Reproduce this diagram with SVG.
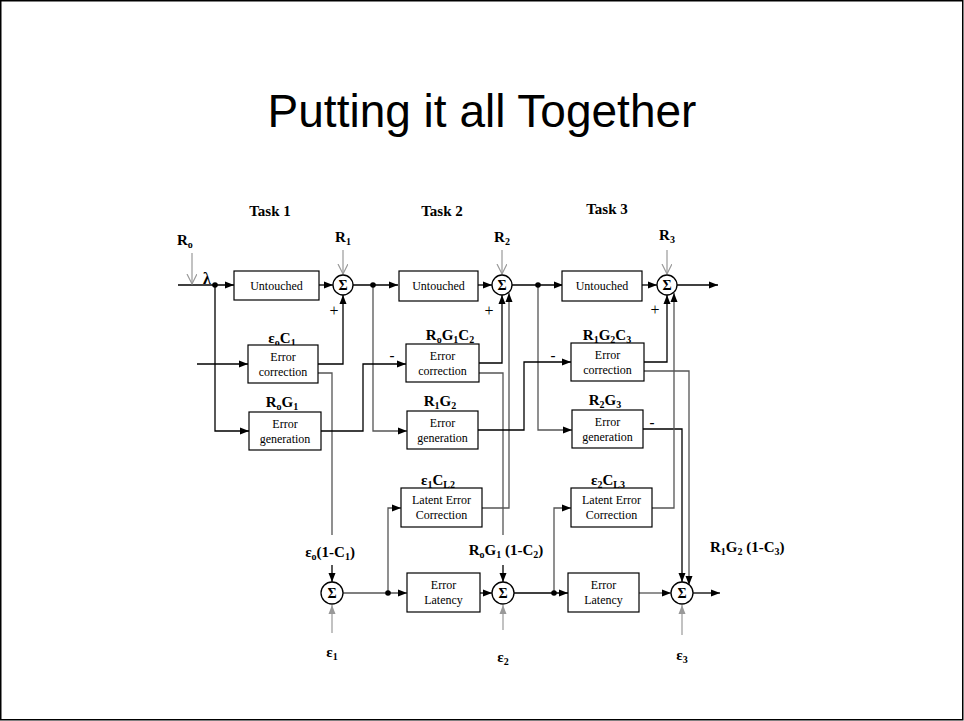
<svg xmlns="http://www.w3.org/2000/svg" width="964" height="721" viewBox="0 0 964 721">
<style>
.ln{fill:none;stroke:#000;stroke-width:1.3}
.gl{fill:none;stroke:#555;stroke-width:1.3}
.ra{fill:none;stroke:#999;stroke-width:1.2}
.box{fill:#fff;stroke:#000;stroke-width:1.2}
.sum{fill:#fff;stroke:#000;stroke-width:1.3}
.bt{font-family:"Liberation Serif","Times New Roman",serif;font-size:12px;text-anchor:middle;fill:#000}
.lb{font-family:"Liberation Serif","Times New Roman",serif;font-size:15px;font-weight:bold;fill:#000}
.pl{font-family:"Liberation Serif","Times New Roman",serif;font-size:16px;fill:#000;text-anchor:middle}
.sg{font-family:"Liberation Serif","Times New Roman",serif;font-size:14px;font-weight:bold;text-anchor:middle;fill:#000}
.c{text-anchor:middle}
.s{font-size:10px}
</style>
<defs>
<marker id="ah" markerUnits="userSpaceOnUse" markerWidth="10" markerHeight="8" refX="9" refY="4" orient="auto"><path d="M0,0.5 L9,4 L0,7.5 z" fill="#000"/></marker>
<marker id="ag" markerUnits="userSpaceOnUse" markerWidth="10" markerHeight="8" refX="9" refY="4" orient="auto"><path d="M0,0.5 L9,4 L0,7.5 z" fill="#999"/></marker>
<marker id="ao" markerUnits="userSpaceOnUse" markerWidth="12" markerHeight="12" refX="10" refY="5" orient="auto"><path d="M0,0 L10,5 L0,10" fill="none" stroke="#999" stroke-width="1.2"/></marker>
</defs>
<rect x="0.75" y="0.75" width="962" height="719" fill="#fff" stroke="#000" stroke-width="1.5"/>
<text x="482" y="127" font-family="'Liberation Sans',Arial,sans-serif" font-size="46" text-anchor="middle" fill="#000">Putting it all Together</text>

<g id="connectors">
<path class="ln" d="M178,285 H234" marker-end="url(#ah)"/>
<path class="ln" d="M215,285 V431 H249" marker-end="url(#ah)"/>
<path class="ln" d="M197,364 H248" marker-end="url(#ah)"/>
<path class="ln" d="M319,285 H333" marker-end="url(#ah)"/>
<path class="ln" d="M318,364 H343 V295" marker-end="url(#ah)"/>
<path class="gl" d="M318,373 H332 V535"/>
<path class="ln" d="M332,565 V582" marker-end="url(#ah)"/>
<path class="ln" d="M353,285 H398" marker-end="url(#ah)"/>
<path class="gl" d="M373,285 V431 H407" marker-end="url(#ah)"/>
<path class="ln" d="M321,431 H363 V364 H406" marker-end="url(#ah)"/>
<path class="ln" d="M478,285 H492" marker-end="url(#ah)"/>
<path class="ln" d="M479,363 H502 V295" marker-end="url(#ah)"/>
<path class="gl" d="M479,373 H503 V535"/>
<path class="ln" d="M503,565 V582" marker-end="url(#ah)"/>
<path class="gl" d="M482,508 H509 V293" marker-end="url(#ah)"/>
<path class="ln" d="M512,285 H563" marker-end="url(#ah)"/>
<path class="gl" d="M538,285 V430 H572" marker-end="url(#ah)"/>
<path class="ln" d="M478,430 H524 V362 H571" marker-end="url(#ah)"/>
<path class="ln" d="M642,285 H657" marker-end="url(#ah)"/>
<path class="ln" d="M644,362 H667 V295" marker-end="url(#ah)"/>
<path class="gl" d="M644,371 H689 V585" marker-end="url(#ah)"/>
<path class="ln" d="M643,429 H682 V582" marker-end="url(#ah)"/>
<path class="gl" d="M652,508 H674 V293" marker-end="url(#ah)"/>
<path class="ln" d="M677,285 H718" marker-end="url(#ah)"/>
<path class="gl" d="M343,593 H407" marker-end="url(#ah)"/>
<path class="gl" d="M388,593 V508 H401" marker-end="url(#ah)"/>
<path class="ln" d="M480,593 H492" marker-end="url(#ah)"/>
<path class="ln" d="M514,593 H568" marker-end="url(#ah)"/>
<path class="gl" d="M554,593 V508 H571" marker-end="url(#ah)"/>
<path class="gl" d="M639,593 H671" marker-end="url(#ah)"/>
<path class="ln" d="M693,593 H720" marker-end="url(#ah)"/>
<path class="ra" d="M192,253 V284" marker-end="url(#ao)"/>
<path class="ra" d="M343,250 V274" marker-end="url(#ao)"/>
<path class="ra" d="M502,250 V274" marker-end="url(#ao)"/>
<path class="ra" d="M667,250 V274" marker-end="url(#ao)"/>
<path class="ra" d="M332,633 V605" marker-end="url(#ag)"/>
<path class="ra" d="M503,630 V605" marker-end="url(#ag)"/>
<path class="ra" d="M682,635 V605" marker-end="url(#ag)"/>
<circle cx="215" cy="285" r="2.8" fill="#000"/>
<circle cx="373" cy="285" r="2.8" fill="#000"/>
<circle cx="538" cy="285" r="2.8" fill="#000"/>
<circle cx="388" cy="593" r="2.8" fill="#000"/>
<circle cx="554" cy="593" r="2.8" fill="#000"/>
</g>

<g id="labels">
<text class="lb c" x="270" y="216">Task 1</text>
<text class="lb c" x="442" y="216">Task 2</text>
<text class="lb c" x="607" y="214">Task 3</text>
<text class="lb" x="177" y="245">R<tspan class="s" dy="3">o</tspan></text>
<text class="lb c" x="343" y="242">R<tspan class="s" dy="3">1</tspan></text>
<text class="lb c" x="502" y="242">R<tspan class="s" dy="3">2</tspan></text>
<text class="lb c" x="667" y="240">R<tspan class="s" dy="3">3</tspan></text>
<text class="pl" x="207" y="284" font-weight="bold">λ</text>
<text class="pl" x="334" y="316">+</text>
<text class="pl" x="489" y="316">+</text>
<text class="pl" x="655" y="315">+</text>
<text class="lb c" x="392" y="360">-</text>
<text class="lb c" x="553" y="360">-</text>
<text class="lb c" x="652" y="427">-</text>
<text class="lb c" x="282" y="343">ε<tspan class="s" dy="3">o</tspan><tspan dy="-3">C</tspan><tspan class="s" dy="3">1</tspan></text>
<text class="lb c" x="282" y="407">R<tspan class="s" dy="3">o</tspan><tspan dy="-3">G</tspan><tspan class="s" dy="3">1</tspan></text>
<text class="lb c" x="450" y="340">R<tspan class="s" dy="3">o</tspan><tspan dy="-3">G</tspan><tspan class="s" dy="3">1</tspan><tspan dy="-3">C</tspan><tspan class="s" dy="3">2</tspan></text>
<text class="lb c" x="440" y="406">R<tspan class="s" dy="3">1</tspan><tspan dy="-3">G</tspan><tspan class="s" dy="3">2</tspan></text>
<text class="lb c" x="607" y="340">R<tspan class="s" dy="3">1</tspan><tspan dy="-3">G</tspan><tspan class="s" dy="3">2</tspan><tspan dy="-3">C</tspan><tspan class="s" dy="3">3</tspan></text>
<text class="lb c" x="605" y="405">R<tspan class="s" dy="3">2</tspan><tspan dy="-3">G</tspan><tspan class="s" dy="3">3</tspan></text>
<text class="lb c" x="438" y="485">ε<tspan class="s" dy="3">1</tspan><tspan dy="-3">C</tspan><tspan class="s" dy="3">L2</tspan></text>
<text class="lb c" x="608" y="485">ε<tspan class="s" dy="3">2</tspan><tspan dy="-3">C</tspan><tspan class="s" dy="3">L3</tspan></text>
<text class="lb c" x="330" y="557">ε<tspan class="s" dy="3">o</tspan><tspan dy="-3">(1-C</tspan><tspan class="s" dy="3">1</tspan><tspan dy="-3">)</tspan></text>
<text class="lb c" x="506" y="555">R<tspan class="s" dy="3">o</tspan><tspan dy="-3">G</tspan><tspan class="s" dy="3">1</tspan><tspan dy="-3"> (1-C</tspan><tspan class="s" dy="3">2</tspan><tspan dy="-3">)</tspan></text>
<text class="lb" x="710" y="552">R<tspan class="s" dy="3">1</tspan><tspan dy="-3">G</tspan><tspan class="s" dy="3">2</tspan><tspan dy="-3"> (1-C</tspan><tspan class="s" dy="3">3</tspan><tspan dy="-3">)</tspan></text>
<text class="lb c" x="332" y="657">ε<tspan class="s" dy="3">1</tspan></text>
<text class="lb c" x="503" y="662">ε<tspan class="s" dy="3">2</tspan></text>
<text class="lb c" x="682" y="660">ε<tspan class="s" dy="3">3</tspan></text>
</g>

<g id="untouched1"><rect class="box" x="234" y="271" width="85" height="29"/><text class="bt" x="276.5" y="290">Untouched</text></g>
<g id="untouched2"><rect class="box" x="399" y="271" width="79" height="30"/><text class="bt" x="438.5" y="290">Untouched</text></g>
<g id="untouched3"><rect class="box" x="562" y="271" width="80" height="30"/><text class="bt" x="602" y="290">Untouched</text></g>

<g id="sum1"><circle class="sum" cx="343" cy="285" r="10"/><text class="sg" x="343" y="290">Σ</text></g>
<g id="sum2"><circle class="sum" cx="502" cy="285" r="10"/><text class="sg" x="502" y="290">Σ</text></g>
<g id="sum3"><circle class="sum" cx="667" cy="285" r="10"/><text class="sg" x="667" y="290">Σ</text></g>
<g id="sum1b"><circle class="sum" cx="332" cy="593" r="11"/><text class="sg" x="332" y="598">Σ</text></g>
<g id="sum2b"><circle class="sum" cx="503" cy="593" r="11"/><text class="sg" x="503" y="598">Σ</text></g>
<g id="sum3b"><circle class="sum" cx="682" cy="593" r="11"/><text class="sg" x="682" y="598">Σ</text></g>

<g id="errcorr1"><rect class="box" x="248" y="345" width="70" height="38"/><text class="bt" x="283" y="361" font-size="11">Error</text><text class="bt" x="283" y="376" font-size="11">correction</text></g>
<g id="errgen1"><rect class="box" x="249" y="412" width="72" height="38"/><text class="bt" x="285" y="428" font-size="11">Error</text><text class="bt" x="285" y="443" font-size="11">generation</text></g>
<g id="errcorr2"><rect class="box" x="406" y="344" width="73" height="38"/><text class="bt" x="442.5" y="360" font-size="11">Error</text><text class="bt" x="442.5" y="375" font-size="11">correction</text></g>
<g id="errgen2"><rect class="box" x="407" y="411" width="71" height="38"/><text class="bt" x="442.5" y="427" font-size="11">Error</text><text class="bt" x="442.5" y="442" font-size="11">generation</text></g>
<g id="errcorr3"><rect class="box" x="571" y="343" width="73" height="38"/><text class="bt" x="607.5" y="359" font-size="11">Error</text><text class="bt" x="607.5" y="374" font-size="11">correction</text></g>
<g id="errgen3"><rect class="box" x="572" y="410" width="71" height="38"/><text class="bt" x="607.5" y="426" font-size="11">Error</text><text class="bt" x="607.5" y="441" font-size="11">generation</text></g>
<g id="latent1"><rect class="box" x="401" y="488" width="81" height="39"/><text class="bt" x="441.5" y="504" font-size="11">Latent Error</text><text class="bt" x="441.5" y="519" font-size="11">Correction</text></g>
<g id="latent2"><rect class="box" x="571" y="488" width="81" height="39"/><text class="bt" x="611.5" y="504" font-size="11">Latent Error</text><text class="bt" x="611.5" y="519" font-size="11">Correction</text></g>
<g id="latency1"><rect class="box" x="407" y="573" width="73" height="39"/><text class="bt" x="443.5" y="589" font-size="11">Error</text><text class="bt" x="443.5" y="604" font-size="11">Latency</text></g>
<g id="latency2"><rect class="box" x="568" y="573" width="71" height="39"/><text class="bt" x="603.5" y="589" font-size="11">Error</text><text class="bt" x="603.5" y="604" font-size="11">Latency</text></g>
</svg>
